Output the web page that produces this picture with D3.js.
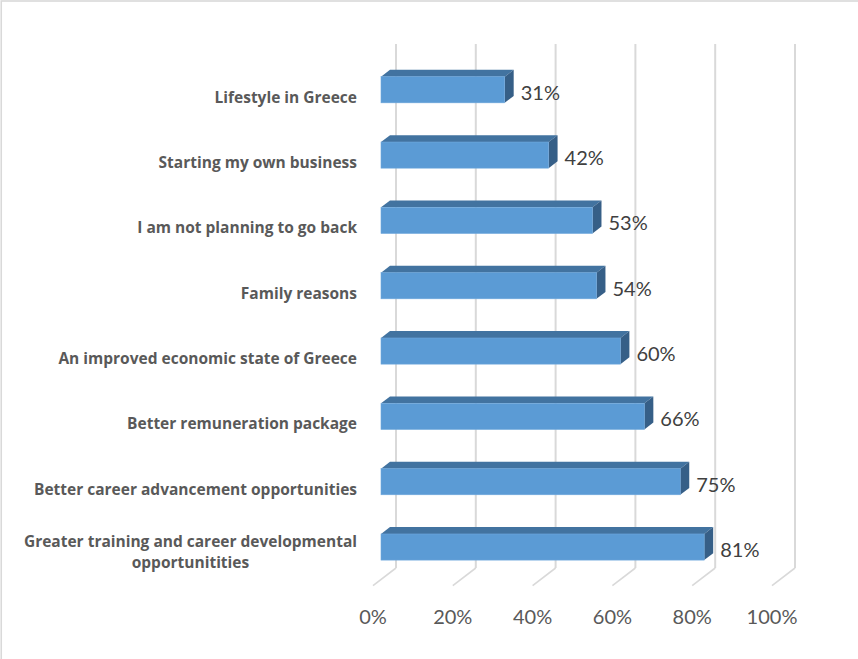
<!DOCTYPE html>
<html>
<head>
<meta charset="utf-8">
<script src="https://cdn.jsdelivr.net/npm/d3@7"></script>
<style>
  html, body { margin: 0; padding: 0; background: #fff; }
  svg { display: block; }
</style>
</head>
<body>
<svg id="chart" width="858" height="659"></svg>
<script>
// Reasons to return to Greece, share of respondents (top to bottom);
// "|" marks a line break in a wrapped label
const categories = [
  "Lifestyle in Greece",
  "Starting my own business",
  "I am not planning to go back",
  "Family reasons",
  "An improved economic state of Greece",
  "Better remuneration package",
  "Better career advancement opportunities",
  "Greater training and career developmental|opportunitities"
];
const values = [0.31, 0.42, 0.53, 0.54, 0.60, 0.66, 0.75, 0.81];
const tickValues = [0, 0.2, 0.4, 0.6, 0.8, 1.0];

const svg = d3.select("#chart");
const W = 858, H = 659;

// Outer chart frame
svg.append("rect")
  .attr("x", 1.25).attr("y", 1)
  .attr("width", W + 20).attr("height", H + 20)
  .attr("fill", "#fff").attr("stroke", "#d9d9d9").attr("stroke-width", 1.6);

// 3D geometry: back wall, floor depth and bar depth
const backX0 = 396, wallTop = 44, wallBottom = 568;
const depthX = -23, depthY = 17.6;          // back wall -> front edge of floor
const barFrontDX = -15, barDepthDX = 9;     // bar front plane offset, bar thickness
const ratio = depthY / depthX;

const xBack = d3.scaleLinear().domain([0, 1]).range([backX0, backX0 + 399]);
const xFront = v => xBack(v) + depthX;
const xBarFront = v => xBack(v) + barFrontDX;

const y = d3.scaleBand()
  .domain(categories)
  .range([57.1, 579.7])
  .paddingInner(0.6)
  .paddingOuter(0.3);

const grid = svg.append("g");
// vertical gridlines on the back wall
grid.selectAll("line.wall")
  .data(tickValues)
  .join("line")
  .attr("class", "wall")
  .attr("x1", d => xBack(d)).attr("x2", d => xBack(d))
  .attr("y1", wallTop).attr("y2", wallBottom)
  .attr("stroke", "#d9d9d9").attr("stroke-width", 2);
// floor gridlines running toward the viewer
grid.selectAll("line.floor")
  .data(tickValues)
  .join("line")
  .attr("class", "floor")
  .attr("x1", d => xBack(d)).attr("y1", wallBottom)
  .attr("x2", d => xFront(d)).attr("y2", wallBottom + depthY)
  .attr("stroke", "#d9d9d9").attr("stroke-width", 1.6);

// Value axis labels along the front edge of the floor
svg.append("g").selectAll("text")
  .data(tickValues)
  .join("text")
  .attr("x", d => xFront(d))
  .attr("y", 624)
  .attr("text-anchor", "middle")
  .attr("font-family", "Lato, 'Open Sans', sans-serif")
  .attr("font-size", 20)
  .attr("fill", "#595959")
  .text(d3.format(".0%"));

// Bars drawn as boxes: top face, side face, front face
const bars = svg.append("g").selectAll("g")
  .data(categories.map((c, i) => ({ c, v: values[i] })))
  .join("g");

const bw = y.bandwidth();
const dX = barDepthDX, dY = barDepthDX * ratio; // dY negative (goes up)

bars.append("path")
  .attr("d", d => {
    const x0 = xBarFront(0), x1 = xBarFront(d.v), t = y(d.c);
    return `M${x0},${t} L${x0 + dX},${t + dY} L${x1 + dX},${t + dY} L${x1},${t} Z`;
  })
  .attr("fill", "#4273a0");

bars.append("path")
  .attr("d", d => {
    const x1 = xBarFront(d.v), t = y(d.c);
    return `M${x1},${t} L${x1 + dX},${t + dY} L${x1 + dX},${t + dY + bw} L${x1},${t + bw} Z`;
  })
  .attr("fill", "#365f87");

bars.append("rect")
  .attr("x", xBarFront(0))
  .attr("y", d => y(d.c))
  .attr("width", d => xBarFront(d.v) - xBarFront(0))
  .attr("height", bw)
  .attr("fill", "#5b9bd5")
  .attr("stroke", "#6fa8dc").attr("stroke-width", 0.6);

// Value labels to the right of each bar
bars.append("text")
  .attr("x", d => xBarFront(d.v) + dX + 7)
  .attr("y", d => y(d.c) + bw / 2 + 10)
  .attr("font-family", "Lato, 'Open Sans', sans-serif")
  .attr("font-size", 20)
  .attr("fill", "#404040")
  .text(d => d3.format(".0%")(d.v));

// Category labels, right-aligned; wrapped labels are centred as a block
const labelRight = 357;
const lineH = 21.5;
const labels = svg.append("g").selectAll("text")
  .data(categories)
  .join("text")
  .attr("font-family", "'Open Sans', Lato, sans-serif")
  .attr("font-weight", "bold")
  .attr("font-size", 15.5)
  .attr("fill", "#595959");

labels.each(function(c) {
  const lines = c.split("|");
  const el = d3.select(this);
  const cy = y(c) + bw / 2;
  const firstBase = cy + 13 - (lines.length - 1) * 13.5;
  lines.forEach((ln, i) => {
    el.append("tspan")
      .attr("y", firstBase + i * lineH)
      .text(ln);
  });
  if (lines.length === 1) {
    el.attr("text-anchor", "end").selectAll("tspan").attr("x", labelRight);
  } else {
    let maxW = 0;
    el.selectAll("tspan").each(function() {
      maxW = Math.max(maxW, this.getComputedTextLength());
    });
    el.attr("text-anchor", "middle").selectAll("tspan").attr("x", labelRight - maxW / 2);
  }
});
</script>
</body>
</html>
